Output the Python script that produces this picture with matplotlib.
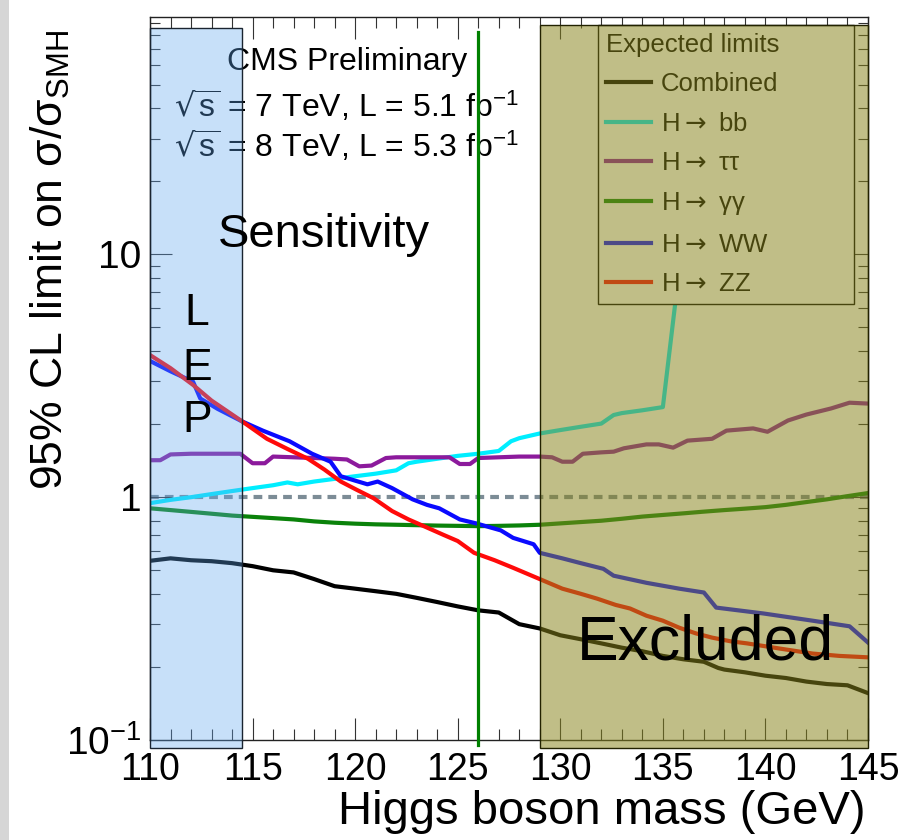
import numpy as np
import matplotlib
matplotlib.use("Agg")
import matplotlib.pyplot as plt
from matplotlib.patches import Rectangle
from matplotlib.transforms import blended_transform_factory
from matplotlib.ticker import FixedLocator, FixedFormatter, LogLocator, NullFormatter

plt.rcParams['font.family'] = ['Liberation Sans', 'DejaVu Sans']
plt.rcParams['mathtext.fontset'] = 'dejavusans'

# ---------------- data ----------------
m_comb = [110, 111, 112, 113, 114, 115, 116, 117, 118, 119, 120, 121, 122, 123, 124, 125,
          126, 127, 128, 129, 130, 131, 132, 133, 134, 135, 136, 137, 137.7, 138, 139, 140,
          141, 142, 143, 144, 145]
v_comb = [0.547, 0.56, 0.55, 0.545, 0.535, 0.52, 0.50, 0.49, 0.46, 0.43, 0.42, 0.41, 0.40,
          0.385, 0.37, 0.355, 0.342, 0.335, 0.30, 0.288, 0.27, 0.26, 0.25, 0.24, 0.232, 0.222,
          0.215, 0.21, 0.198, 0.195, 0.19, 0.184, 0.18, 0.174, 0.17, 0.168, 0.156]

m_bb = [110, 111, 112, 113, 114, 115, 116, 116.7, 117.2, 118, 119, 120, 121, 122, 122.6, 123,
        124, 125, 126, 127, 127.6, 128, 129, 130, 131, 132, 132.6, 133, 134, 135, 136, 137]
v_bb = [0.945, 0.975, 1.0, 1.03, 1.06, 1.09, 1.12, 1.15, 1.13, 1.16, 1.19, 1.22, 1.25, 1.29,
        1.38, 1.40, 1.44, 1.48, 1.51, 1.55, 1.70, 1.75, 1.83, 1.89, 1.95, 2.01, 2.18, 2.22,
        2.28, 2.35, 12.0, 60.0]

m_tt = [110, 110.5, 111, 112, 113, 114.4, 115, 115.6, 116, 117, 118, 119, 119.6, 120.2, 120.8,
        121.5, 122, 123, 124, 124.6, 125.1, 125.6, 126, 127, 128, 129, 129.6, 130.1, 130.6,
        131.1, 132, 132.6, 133.1, 134.2, 134.8, 135.5, 136.2, 137.4, 138.1, 139.4, 140.1,
        141.1, 142, 143.2, 144.1, 145]
v_tt = [1.42, 1.42, 1.50, 1.51, 1.51, 1.51, 1.38, 1.38, 1.47, 1.46, 1.45, 1.44, 1.43, 1.34,
        1.35, 1.45, 1.46, 1.46, 1.46, 1.46, 1.37, 1.37, 1.45, 1.46, 1.47, 1.47, 1.46, 1.40,
        1.40, 1.51, 1.53, 1.54, 1.59, 1.65, 1.65, 1.60, 1.71, 1.74, 1.88, 1.92, 1.86, 2.07,
        2.19, 2.32, 2.45, 2.43]

m_gg = [110, 111, 112, 113, 114, 115, 116, 117, 118, 119, 120, 121, 122, 123, 124, 125, 126,
        127, 128, 129, 130, 131, 132, 133, 134, 135, 136, 137, 138, 139, 140, 141, 142, 143,
        144, 145]
v_gg = [0.90, 0.885, 0.87, 0.855, 0.84, 0.83, 0.82, 0.81, 0.795, 0.785, 0.778, 0.773, 0.77,
        0.767, 0.764, 0.762, 0.76, 0.762, 0.765, 0.77, 0.78, 0.79, 0.80, 0.815, 0.832, 0.845,
        0.858, 0.872, 0.885, 0.897, 0.91, 0.93, 0.955, 0.98, 1.01, 1.04]

m_ww = [110, 111, 112.1, 112.45, 113.3, 114.5, 115.5, 116.8, 117.9, 118.8, 119.3, 120.0, 120.6,
        121.1, 121.8, 122.8, 123.5, 124.1, 125.1, 125.9, 127.1, 127.7, 128.7, 129.0, 130.1,
        131.0, 132.1, 132.6, 134.2, 135.8, 137.0, 137.6, 139.9, 142.3, 144.1, 145]
v_ww = [3.64, 3.3, 2.99, 2.55, 2.31, 2.05, 1.88, 1.70, 1.51, 1.40, 1.22, 1.17, 1.13, 1.16,
        1.09, 0.98, 0.93, 0.90, 0.81, 0.78, 0.73, 0.68, 0.64, 0.59, 0.56, 0.535, 0.507, 0.475,
        0.444, 0.42, 0.405, 0.351, 0.332, 0.31, 0.294, 0.252]

m_zz = [110, 111, 112.1, 113, 114.5, 115.7, 116.7, 117.7, 118.5, 119.3, 120.1, 120.9, 121.8,
        122.6, 123.5, 124.3, 125.0, 125.8, 126.8, 127.7, 129.0, 130.1, 131.0, 131.8, 132.7,
        133.4, 134.2, 135.0, 135.8, 136.6, 137.4, 138.3, 139.1, 140.7, 142.3, 143.6, 145]
v_zz = [3.85, 3.4, 2.90, 2.5, 2.05, 1.74, 1.58, 1.44, 1.30, 1.16, 1.07, 0.99, 0.877, 0.81,
        0.75, 0.70, 0.66, 0.59, 0.55, 0.512, 0.46, 0.42, 0.40, 0.382, 0.36, 0.348, 0.325, 0.31,
        0.29, 0.275, 0.264, 0.255, 0.25, 0.238, 0.227, 0.222, 0.219]

series_labels = ['Combined', r'H$\rightarrow$ bb', r'H$\rightarrow$ ττ', r'H$\rightarrow$ γγ',
                 r'H$\rightarrow$ WW', r'H$\rightarrow$ ZZ']
series_colors = ['#000000', '#00eeff', '#8c1a9c', '#0a820a', '#0a0aff', '#ff0a0a']

lep_range = (110, 114.5)
excl_range = (129, 145)
higgs_mass = 126
sm_level = 1.0

x_ticks = [110, 115, 120, 125, 130, 135, 140, 145]
y_ticks = [0.1, 1, 10]
y_tick_labels = [r'$\mathdefault{10^{\mathdefault{-1}}}$', '1', '10']

# ---------------- figure ----------------
W, H = 910, 840
fig = plt.figure(figsize=(W / 100, H / 100), dpi=100)
fig.patch.set_facecolor('white')
fig.patches.append(Rectangle((0, 0), 9 / W, 1, transform=fig.transFigure,
                             facecolor='#d6d6d6', edgecolor='none'))

ax_l, ax_r, ax_t, ax_b = 150, 868, 17, 740
ax = fig.add_axes([ax_l / W, 1 - ax_b / H, (ax_r - ax_l) / W, (ax_b - ax_t) / H])
ax.set_yscale('log')
ax.set_xlim(110, 145)
ax.set_ylim(0.1, 95)

def ax_x(px):
    return (px - ax_l) / (ax_r - ax_l)

def ax_y(py):
    return (ax_b - py) / (ax_b - ax_t)

# SM reference dashed line
ax.axhline(sm_level, color='#7c8c96', lw=3, dashes=(2.1, 1.45), zorder=1.5)

lw = 3.0
data = [(m_comb, v_comb), (m_bb, v_bb), (m_tt, v_tt), (m_gg, v_gg), (m_zz, v_zz), (m_ww, v_ww)]
order = [0, 1, 2, 3, 5, 4]
handles = {}
for idx, (mm, vv) in zip(order, data):
    ln, = ax.plot(mm, vv, color=series_colors[idx], lw=lw, label=series_labels[idx],
                  zorder=2 + 0.1 * idx, solid_joinstyle='round')
    handles[idx] = ln

# Higgs mass vertical line
ax.axvline(higgs_mass, ymin=ax_y(745), ymax=ax_y(32), color='#008000', lw=2.3,
           zorder=9, clip_on=False)

# texts under the overlays
ax.text(ax_x(347), ax_y(70), 'CMS Preliminary', transform=ax.transAxes, ha='center',
        va='baseline', fontsize=23, zorder=4)
ax.text(ax_x(347), ax_y(117), r'$\sqrt{\mathdefault{s}}$ = 7 TeV, L = 5.1 fb$\mathdefault{^{-1}}$',
        transform=ax.transAxes, ha='center', va='baseline', fontsize=23, zorder=4)
ax.text(ax_x(347), ax_y(157), r'$\sqrt{\mathdefault{s}}$ = 8 TeV, L = 5.3 fb$\mathdefault{^{-1}}$',
        transform=ax.transAxes, ha='center', va='baseline', fontsize=23, zorder=4)

# legend (drawn under the excluded overlay)
leg = ax.legend([handles[i] for i in range(6)], series_labels,
                title='Expected limits', loc='upper left',
                bbox_to_anchor=(ax_x(598), ax_y(298), ax_x(854) - ax_x(598), ax_y(25) - ax_y(298)),
                mode='expand', borderaxespad=0, fontsize=18.5, title_fontsize=18.5,
                alignment='left', frameon=True, fancybox=False, framealpha=1,
                edgecolor='black', facecolor='white', handlelength=1.75,
                handletextpad=0.4, labelspacing=0.6, borderpad=0.3)
leg.get_frame().set_linewidth(1.0)
leg.set_zorder(5)

# overlays
bt = blended_transform_factory(ax.transData, ax.transAxes)
ax.add_patch(Rectangle((lep_range[0], ax_y(748)), lep_range[1] - lep_range[0],
                       ax_y(28) - ax_y(748), transform=bt, facecolor=(0.38, 0.66, 0.94, 0.35),
                       edgecolor='#1a2430', lw=1.0, zorder=6, clip_on=False))
ax.add_patch(Rectangle((excl_range[0], ax_y(748)), excl_range[1] - excl_range[0],
                       ax_y(25) - ax_y(748), transform=bt, facecolor=(0.533, 0.518, 0.11, 0.53),
                       edgecolor='#222200', lw=1.0, zorder=6, clip_on=False))

# texts above the overlays
ax.text(ax_x(218), ax_y(247), 'Sensitivity', transform=ax.transAxes, ha='left',
        va='baseline', fontsize=34, zorder=8)
for letter, py in zip(['L', 'E', 'P'], [325, 380, 432]):
    ax.text(ax_x(197), ax_y(py), letter, transform=ax.transAxes, ha='center',
            va='baseline', fontsize=32, zorder=8)
ax.text(ax_x(577), ax_y(660), 'Excluded', transform=ax.transAxes, ha='left',
        va='baseline', fontsize=45, zorder=8)

# axes styling
ax.xaxis.set_major_locator(FixedLocator(x_ticks))
ax.xaxis.set_minor_locator(FixedLocator(np.arange(110, 146, 1)))
ax.yaxis.set_major_locator(FixedLocator(y_ticks))
ax.yaxis.set_major_formatter(FixedFormatter(y_tick_labels))
ax.yaxis.set_minor_locator(LogLocator(base=10, subs=np.arange(2, 10)))
ax.yaxis.set_minor_formatter(NullFormatter())
ax.tick_params(which='both', direction='in', top=True, right=True, color='#333333')
ax.tick_params(axis='x', which='major', length=16, width=0.8, labelsize=27, pad=9)
ax.tick_params(axis='x', which='minor', length=8, width=0.8)
ax.tick_params(axis='y', which='major', length=16, width=0.8, labelsize=28, pad=6)
ax.tick_params(axis='y', which='minor', length=7, width=0.8)
for s in ax.spines.values():
    s.set_linewidth(1.0)
    s.set_color('#222222')

ax.set_xlabel('Higgs boson mass (GeV)', fontsize=34, loc='right')
ax.xaxis.set_label_coords(ax_x(866), ax_y(790))
ax.set_ylabel(r'95% CL limit on σ/σ$\mathdefault{_{SMH}}$', fontsize=32, loc='top')
ax.yaxis.set_label_coords(ax_x(72), ax_y(30))

fig.savefig('out.png', dpi=100)
